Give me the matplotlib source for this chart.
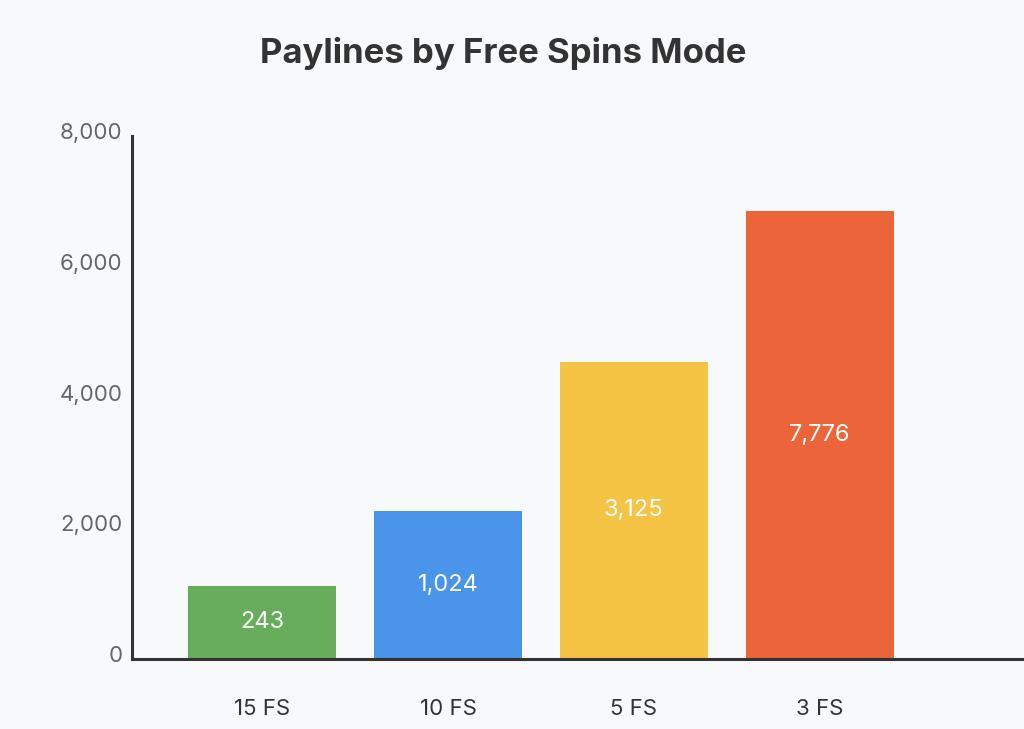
import matplotlib
matplotlib.use("Agg")
import matplotlib.pyplot as plt
from matplotlib.transforms import ScaledTranslation

plt.rcParams['font.family'] = ['Inter', 'DejaVu Sans']

# catégories et valeurs affichées
modes = ["15 FS", "10 FS", "5 FS", "3 FS"]
labels = ["243", "1,024", "3,125", "7,776"]
# hauteurs des barres telles que dessinées sur l'axe
heights = [1120, 2260, 4550, 6850]
colors = ["#67ad5b", "#4a94ea", "#f6c445", "#ec6439"]
yticks = [0, 2000, 4000, 6000, 8000]

bg = "#f8f9fb"
fig = plt.figure(figsize=(10.24, 7.29), dpi=100, facecolor=bg)
ax = fig.add_axes([0.129, 0.096, 0.871, 0.717], facecolor=bg)

x = range(len(modes))
bars = ax.bar(x, heights, width=0.796, color=colors)
for b, lab in zip(bars, labels):
    ax.text(b.get_x() + b.get_width() / 2, b.get_height() / 2, lab,
            ha="center", va="center", color="white", fontsize=17)

ax.set_xlim(-0.70, 4.10)
ax.set_ylim(0, 8000)
ax.set_xticks(list(x))
ax.set_xticklabels(modes, fontsize=16, color="#333333")
ax.set_yticks(yticks)
ax.set_yticklabels([f"{v:,}" for v in yticks], fontsize=16, color="#666666")
ax.tick_params(axis="x", length=0, pad=29)
ax.tick_params(axis="y", length=0, pad=7)

# étiquettes de l'axe y légèrement au-dessus des graduations
decal = ScaledTranslation(0, 5 / 100, fig.dpi_scale_trans)
for t in ax.get_yticklabels():
    t.set_transform(t.get_transform() + decal)

for s in ["top", "right"]:
    ax.spines[s].set_visible(False)
for s in ["left", "bottom"]:
    ax.spines[s].set_color("#333333")
    ax.spines[s].set_linewidth(2.2)

fig.text(0.491, 0.927, "Paylines by Free Spins Mode", ha="center", va="center",
         fontsize=25, fontweight="bold", color="#333333")

fig.savefig("out.png", dpi=100, facecolor=bg)
